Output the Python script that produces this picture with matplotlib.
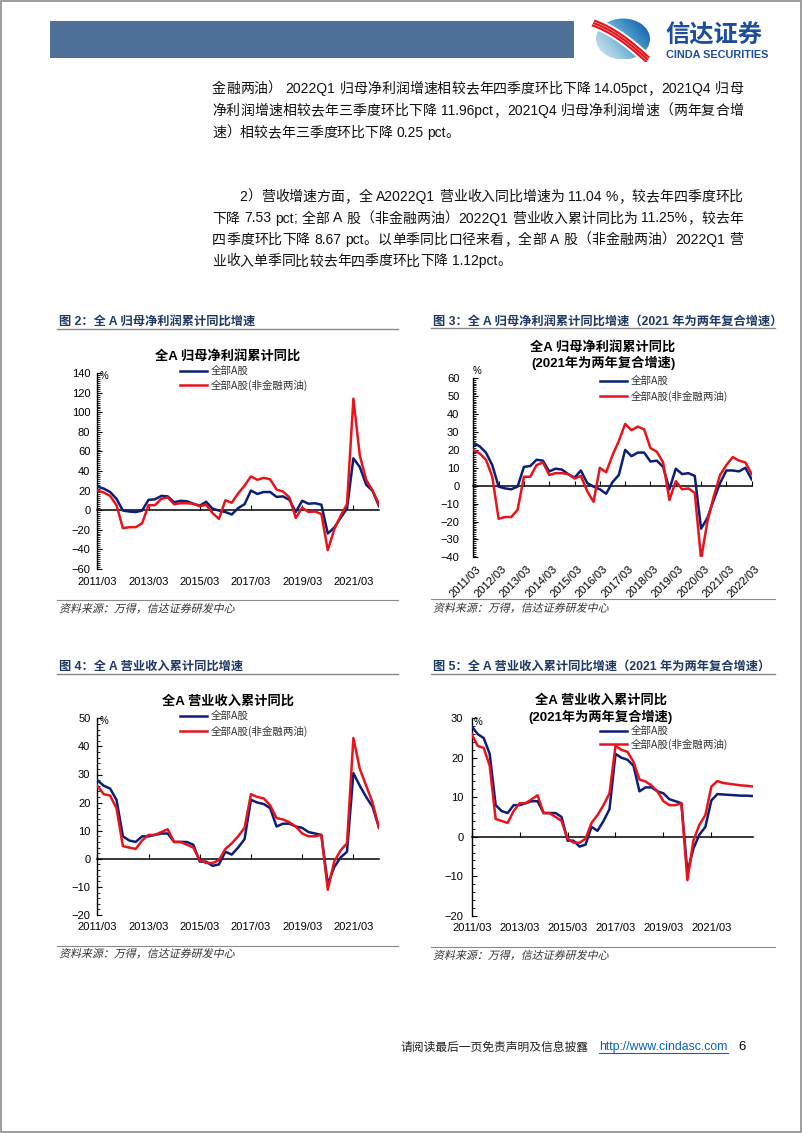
"""Rebuild of the Cinda Securities report page (page 6) with four profit / revenue charts."""
import re

import matplotlib
matplotlib.use("Agg")
import matplotlib.pyplot as plt
import matplotlib.transforms as mtransforms
import numpy as np
from matplotlib.font_manager import FontProperties
from matplotlib.lines import Line2D
from matplotlib.patches import Ellipse, PathPatch, Rectangle
from matplotlib.textpath import TextPath
from matplotlib.ticker import MultipleLocator

W, H = 802, 1133
CJK = ["Noto Sans CJK SC", "DejaVu Sans"]
MIX = ["Liberation Sans", "Noto Sans CJK SC"]
plt.rcParams["font.family"] = CJK
plt.rcParams["axes.unicode_minus"] = True

BLUE = "#0B1F78"
RED = "#E8141C"
NAVY = "#1F3864"

# ---- data (quarterly, cumulative yoy %, 2011Q1 onwards) ----
profit_all = [24, 22, 18.5, 11.5, -0.5, -1.5, -2, -0.5, 10.5, 11, 14.5, 14,
              8, 9.5, 9, 6.5, 4.5, 8.5, 1.5, -0.5, -2, -4.5, 2, 6,
              20, 16.5, 18.5, 18.5, 13.5, 14, 10.5, -2, 9.5, 6.5, 7, 5.5,
              -24, -18, -8, 1.5, 53, 44, 26, 19.5, 4]
profit_ex = [20, 18, 14.5, 5, -18.5, -17.5, -17.5, -13.5, 5, 5, 11.5, 13,
             6, 7, 7, 6.5, 4, 5.5, -3, -9, 10, 7.5, 17, 25,
             34.5, 31, 33, 31.5, 21, 19, 13, -8, 2.5, -2, -1.5, -4,
             -41, -20, -6, 6, 114, 56, 31, 20, 6]
# 2021Q1 onwards as two-year compound growth
profit_all_cagr = [8.5, 8.5, 8, 10, 3.5]
profit_ex_cagr = [11.5, 16, 14, 13, 6.5]

rev_all = [28, 26, 25, 21, 8, 6.5, 6, 8, 8, 8.5, 9, 9,
           6, 6, 6, 5, -1, -1, -2.5, -2, 2.5, 1.5, 4, 7,
           21, 20, 19.5, 18, 11.5, 12.5, 12.5, 11.5, 11, 9.5, 9, 8.5,
           -9, -3, 0.5, 2.5, 30.5, 26, 22, 18.5, 11]
rev_ex = [26, 23, 22.5, 18, 4.5, 4, 3.5, 6.5, 8.5, 8.5, 9.5, 10.5,
          6, 6, 5, 4, -0.5, -1.5, -1.5, -0.5, 3.5, 5.5, 8, 11,
          23, 22, 21.5, 19, 14.5, 14, 13, 11.5, 9, 8, 8, 8.5,
          -11, -1, 3, 5.5, 43, 32, 26, 20, 11]
rev_all_cagr = [9.2, 10.8, 10.7, 10.6, 10.5, 10.4, 10.4, 10.3]
rev_ex_cagr = [12.7, 14.1, 13.6, 13.4, 13.2, 13.0, 12.9, 12.7]

labels_2y = ["2011/03", "2013/03", "2015/03", "2017/03", "2019/03", "2021/03"]
labels_1y = ["2011/03", "2012/03", "2013/03", "2014/03", "2015/03", "2016/03",
             "2017/03", "2018/03", "2019/03", "2020/03", "2021/03", "2022/03"]
legend_names = ["全部A股", "全部A股(非金融两油)"]

para1 = [
    "金融两油） 2022Q1 归母净利润增速相较去年四季度环比下降 14.05pct，2021Q4 归母",
    "净利润增速相较去年三季度环比下降 11.96pct，2021Q4 归母净利润增速（两年复合增",
    "速）相较去年三季度环比下降 0.25 pct。",
]
para2 = [
    "2）营收增速方面，全 A2022Q1 营业收入同比增速为 11.04 %，较去年四季度环比",
    "下降 7.53 pct; 全部 A 股（非金融两油）2022Q1 营业收入累计同比为 11.25%，较去年",
    "四季度环比下降 8.67 pct。以单季同比口径来看，全部 A 股（非金融两油）2022Q1 营",
    "业收入单季同比较去年四季度环比下降 1.12pct。",
]

fig = plt.figure(figsize=(W / 100, H / 100), dpi=100)


def fx(x):
    return x / W


def fy(y):
    return 1 - y / H


def hline(x0, x1, y, color="#7f7f7f", lw=0.9):
    fig.add_artist(Line2D([fx(x0), fx(x1)], [fy(y), fy(y)], color=color, lw=lw))


def slanted(x, y, s, size_pt, color):
    # CJK fonts have no italic face, so shear the glyph outlines instead
    tp = TextPath((0, 0), s, size=size_pt * 100 / 72, prop=FontProperties(family=CJK))
    ext = tp.get_extents()
    tr = mtransforms.Affine2D().skew_deg(13, 0).translate(x, H - y - (ext.y0 + ext.y1) / 2)
    patch = PathPatch(tp, facecolor=color, edgecolor="none", lw=0)
    patch.set_transform(tr)
    fig.add_artist(patch)


# ---- page frame + header ----
fig.add_artist(Rectangle((0.001, 0.001), 0.998, 0.998, transform=fig.transFigure,
                         fill=False, edgecolor="#8c8c8c", lw=1.2))
fig.add_artist(Rectangle((fx(50), fy(57.7)), fx(574) - fx(50), fy(20.7) - fy(57.7),
                         transform=fig.transFigure, facecolor="#4D6F98", edgecolor="none"))

logo = fig.add_axes([fx(585), fy(62), fx(70), 45 / H])
logo.set_xlim(0, 70)
logo.set_ylim(0, 45)
logo.axis("off")
ell = Ellipse((38, 23), 54, 41, facecolor="none", edgecolor="none")
logo.add_patch(ell)
grad = np.linspace(0, 1, 64)[None, :] + np.linspace(1, 0, 64)[:, None] * 0.6
logo.imshow(grad, extent=(11, 65, 2.5, 43.5), cmap="Blues", vmin=-0.4, vmax=1.9,
            origin="upper", clip_path=ell, aspect="auto")
t = np.linspace(0, 1, 60)
for off, col, lw in [(0, "white", 8), (-2.3, RED, 1.6), (0, RED, 1.6), (2.3, RED, 1.6)]:
    xs = 8 + 55 * t + off * 0.5
    ys = 39 - 37 * t ** 1.1 + off + 3 * np.sin(np.pi * t)
    logo.plot(xs, ys, color=col, lw=lw, solid_capstyle="butt")
fig.text(fx(665), fy(36), "信达证券", fontsize=17.5, fontweight="bold", color="#1D4E9E",
         va="center", ha="left")
fig.text(fx(666), fy(54.5), "CINDA SECURITIES", fontsize=7.8, fontweight="bold",
         color="#1D4E9E", va="center", ha="left", family=MIX)

# ---- body text, justified like the Word source ----
renderer = fig.canvas.get_renderer()
BODY = 10
FULLW = "，。（）：；"


def text_line(line, x0, x1, y, last):
    tokens = re.findall(r"[A-Za-z0-9.%]+|.", line)
    em = BODY * 100 / 72
    widths = []
    for tok in tokens:
        if tok == " ":
            widths.append(em * 0.28)
        elif tok in FULLW:
            widths.append(em)
        else:
            tt = fig.text(0, 0, tok, fontsize=BODY, family=MIX)
            widths.append(tt.get_window_extent(renderer).width)
            tt.remove()
    gap = 0 if last else (x1 - x0 - sum(widths)) / (len(tokens) - 1)
    x = x0
    for tok, w in zip(tokens, widths):
        if tok != " ":
            if tok in FULLW:
                fig.text(fx(x + w / 2), fy(y), tok, fontsize=BODY, family=MIX,
                         ha="center", va="center", color="#111111")
            else:
                fig.text(fx(x), fy(y), tok, fontsize=BODY, family=MIX,
                         ha="left", va="center", color="#111111")
        x += w + gap


for i, (line, y) in enumerate(zip(para1, [89, 111, 133])):
    text_line(line, 212, 743, y, i == len(para1) - 1)
for i, (line, y) in enumerate(zip(para2, [197, 218.5, 240, 261.5])):
    text_line(line, 239 if i == 0 else 212, 743, y, i == len(para2) - 1)


# ---- charts ----
def panel(box, ylim, major, minor, blue, red, ticks, labels, rotate, pad,
          titles, title_x, title_ys, pct_xy, leg_x, leg_ys, xlab_off):
    x0, y0, x1, y1 = box
    ax = fig.add_axes([fx(x0), fy(y1), fx(x1) - fx(x0), fy(y0) - fy(y1)])
    ax.patch.set_alpha(0)
    n = len(blue)
    xs = np.arange(n)
    ax.plot(xs, blue, color=BLUE, lw=1.8, zorder=3)
    ax.plot(xs, red, color=RED, lw=1.8, zorder=3)
    ax.set_xlim(0, n - 1)
    ax.set_ylim(*ylim)
    for s in ("top", "right"):
        ax.spines[s].set_visible(False)
    ax.spines["bottom"].set_position(("data", 0))
    ax.spines["bottom"].set_linewidth(1.1)
    ax.spines["left"].set_linewidth(1.0)
    ax.yaxis.set_major_locator(MultipleLocator(major))
    ax.yaxis.set_minor_locator(MultipleLocator(minor))
    ax.tick_params(axis="y", which="major", direction="in", length=3.5, width=0.8,
                   labelsize=8, pad=pad)
    ax.tick_params(axis="y", which="minor", direction="in", length=2.2, width=0.6)
    for lab in ax.get_yticklabels():
        lab.set_family(MIX)
    ax.set_xticks(ticks)
    ax.tick_params(axis="x", direction="in", length=3.5, width=0.8, labelbottom=False)
    trans = mtransforms.blended_transform_factory(ax.transData, ax.transAxes)
    for xi, lab in zip(ticks, labels):
        if rotate:
            ax.annotate(lab, (xi, 0), xycoords=trans, xytext=(2, -5),
                        textcoords="offset points", ha="right", va="top",
                        rotation=45, rotation_mode="anchor", fontsize=8, family=MIX)
        else:
            ax.annotate(lab, (xi, 0), xycoords=trans, xytext=(0, xlab_off),
                        textcoords="offset points", ha="center", va="center",
                        fontsize=8, family=MIX)
    for s, ty in zip(titles, title_ys):
        fig.text(fx(title_x), fy(ty), s, fontsize=9.5, fontweight="bold", ha="center",
                 va="center", family=MIX)
    fig.text(fx(pct_xy[0]), fy(pct_xy[1]), "%", fontsize=7, ha="left", va="center",
             family=MIX)
    for name, col, ly in zip(legend_names, [BLUE, RED], leg_ys):
        fig.add_artist(Line2D([fx(leg_x), fx(leg_x + 27)], [fy(ly), fy(ly)],
                              color=col, lw=1.8))
        fig.text(fx(leg_x + 31), fy(ly), name, fontsize=7.6, ha="left", va="center",
                 color="#333333")
    return ax


def frame(x0, x1, title, ty, rule_y, src_rule_y, src_y):
    fig.text(fx(x0 + 1), fy(ty), title, fontsize=8.8, fontweight="bold", color=NAVY,
             ha="left", va="center", family=MIX)
    hline(x0 - 1, x1, rule_y, color="#8a8a8a", lw=1.0)
    hline(x0 - 1, x1, src_rule_y, color="#8a8a8a", lw=0.8)
    slanted(x0 + 1, src_y, "资料来源：万得，信达证券研发中心", 7.9, "#333333")


idx2 = [0, 8, 16, 24, 32, 40]
idx1 = [0, 4, 8, 12, 16, 20, 24, 28, 32, 36, 40, 44]

# Figure 2
frame(58, 398, "图 2：全 A 归母净利润累计同比增速", 321.7, 329.3, 600, 608.3)
panel((97.3, 373.3, 379, 568.7), (-60, 140), 20, 2, profit_all, profit_ex,
      idx2, labels_2y, False, 5, ["全A 归母净利润累计同比"], 228, [356.7],
      (99.5, 376), 180, (371, 385), -9.5)

# Figure 3
frame(432, 775, "图 3：全 A 归母净利润累计同比增速（2021 年为两年复合增速）",
      321.7, 328.3, 599.3, 607.7)
panel((473.3, 378.3, 751.7, 557.3), (-40, 60), 10, 1,
      profit_all[:40] + profit_all_cagr, profit_ex[:40] + profit_ex_cagr,
      idx1, labels_1y, True, 10, ["全A 归母净利润累计同比", "(2021年为两年复合增速)"],
      603, [347.3, 363.3], (473, 371), 600, (380.7, 396), 0)

# Figure 4
frame(58, 398, "图 4：全 A 营业收入累计同比增速", 666.7, 674.3, 945.7, 953.3)
panel((97.3, 718.3, 379, 915), (-20, 50), 10, 2, rev_all, rev_ex,
      idx2, labels_2y, False, 5, ["全A 营业收入累计同比"], 228, [701.7],
      (99.5, 721), 180, (716, 731), -8.5)

# Figure 5
frame(432, 775, "图 5：全 A 营业收入累计同比增速（2021 年为两年复合增速）",
      666.7, 674.3, 946.7, 955)
panel((471.7, 718.3, 753.3, 915.7), (-20, 30), 10, 2,
      rev_all[:40] + rev_all_cagr, rev_ex[:40] + rev_ex_cagr,
      idx2, labels_2y, False, 6, ["全A 营业收入累计同比", "(2021年为两年复合增速)"],
      600.8, [700, 716.7], (474, 722), 600, (731, 744.3), -9)

# ---- footer ----
fig.text(fx(400.7), fy(1046.7), "请阅读最后一页免责声明及信息披露", fontsize=8.5,
         ha="left", va="center", color="#222222")
url = fig.text(fx(599), fy(1046.7), "http://www.cindasc.com", fontsize=8.8,
               ha="left", va="center", color="#0563C1", family=MIX)
bb = url.get_window_extent(renderer)
hline(bb.x0, bb.x1, 1053, color="#0563C1", lw=0.8)
fig.text(fx(738), fy(1046.7), "6", fontsize=9.5, ha="left", va="center", family=MIX)

fig.savefig("out.png", dpi=100)
